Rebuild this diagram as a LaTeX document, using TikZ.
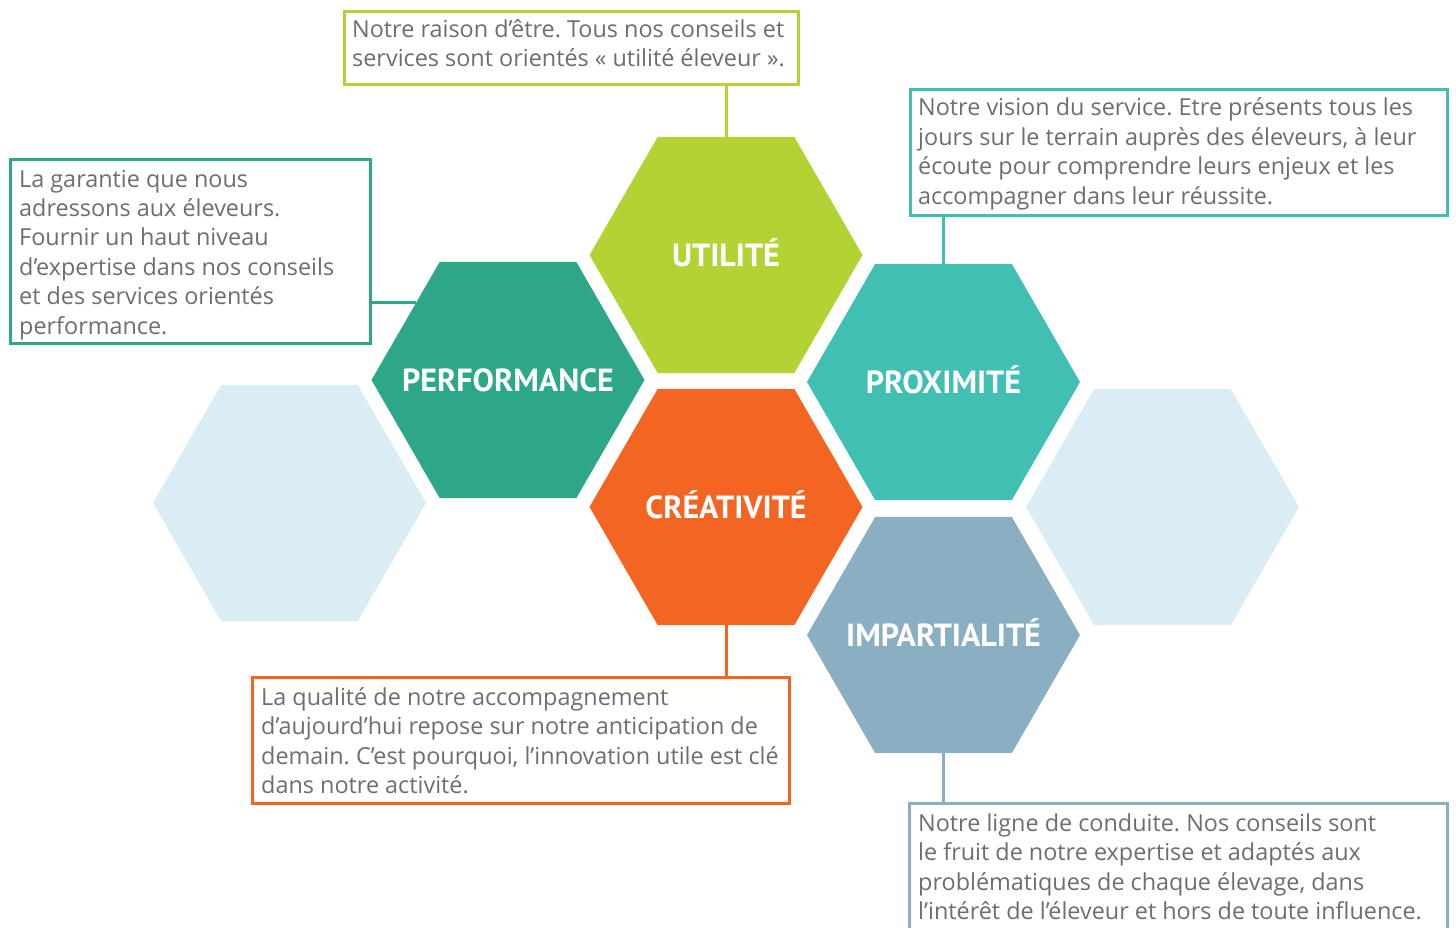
\documentclass[tikz,border=0pt]{standalone}
\usepackage{fontspec}
\setmainfont{Open Sans}
\newfontfamily\labelfont{PT Sans}
\usetikzlibrary{shapes.geometric}
\frenchspacing
\definecolor{cU}{HTML}{B3D334}
\definecolor{cPf}{HTML}{2EA688}
\definecolor{cPx}{HTML}{41BFB2}
\definecolor{cC}{HTML}{F26522}
\definecolor{cI}{HTML}{8AAFC2}
\definecolor{cL}{HTML}{DAECF4}
\definecolor{txt}{HTML}{6D6E71}
\tikzset{
  hexa/.style={regular polygon, regular polygon sides=6, minimum size=273pt,
    inner sep=0pt, outer sep=0pt, draw=none},
  hexlabel/.style={inner sep=0pt, text=white,
    font=\labelfont\fontsize{32}{32}\selectfont\bfseries, text height=22pt, text depth=0pt},
  descbox/.style={draw, line width=3pt, anchor=north west, inner sep=0pt, fill=white},
  desctext/.style={anchor=base west, inner sep=0pt, align=left, text=txt,
    font=\frenchspacing\fontsize{23.4}{29.4}\selectfont},
  link/.style={line width=3pt}
}
\begin{document}
\begin{tikzpicture}[x=1pt,y=-1pt]
\useasboundingbox (0,0) rectangle (1456,927);
\clip (0,0) rectangle (1456,927);
% hexagons
\node[hexa, fill=cL] (l1) at (289.5,503) {};
\node[hexa, fill=cL] (l2) at (1162.5,507) {};
\node[hexa, fill=cU] (u) at (726,255) {};
\node[hexa, fill=cPf] (pf) at (508,380) {};
\node[hexa, fill=cPx] (px) at (943.5,382) {};
\node[hexa, fill=cC] (c) at (726,507) {};
\node[hexa, fill=cI] (i) at (943.5,635) {};
\node[hexlabel] (ul) at (u) {UTILITÉ};
\node[hexlabel] (pfl) at (pf) {PERFORMANCE};
\node[hexlabel] (pxl) at (px) {PROXIMITÉ};
\node[hexlabel] (cl) at (c) {CRÉATIVITÉ};
\node[hexlabel] (il) at (i) {IMPARTIALITÉ};
% boxes
\node[descbox, draw=cU, minimum width=454pt, minimum height=73pt] (tb) at (343,10) {};
\node[descbox, draw=cPf, minimum width=360pt, minimum height=184pt] (pfb) at (9,158) {};
\node[descbox, draw=cPx, minimum width=537pt, minimum height=126pt] (pxb) at (909,88) {};
\node[descbox, draw=cC, minimum width=537pt, minimum height=126pt] (cb) at (251,676) {};
\node[descbox, draw=cI, minimum width=538pt, minimum height=140pt] (ib) at (908,802) {};
% texts (anchored at the baseline of their last line)
\node[desctext] (tt) at (352,66.5) {Notre raison d’être. Tous nos conseils et\\services sont orientés « utilité éleveur ».};
\node[desctext] (pft) at (19,334) {La garantie que nous\\adressons aux éleveurs.\\Fournir un haut niveau\\d’expertise dans nos conseils\\et des services orientés\\performance.};
\node[desctext] (pxt) at (918,204) {Notre vision du service. Etre présents tous les\\jours sur le terrain auprès des éleveurs, à leur\\écoute pour comprendre leurs enjeux et les\\accompagner dans leur réussite.};
\node[desctext] (ct) at (261,793.5) {La qualité de notre accompagnement\\d’aujourd’hui repose sur notre anticipation de\\demain. C’est pourquoi, l’innovation utile est clé\\dans notre activité.};
\node[desctext] (it) at (918,919.5) {Notre ligne de conduite. Nos conseils sont\\le fruit de notre expertise et adaptés aux\\problématiques de chaque élevage, dans\\l’intérêt de l’éleveur et hors de toute influence.};
% connectors
\draw[link, cU] (u.north) -- (u.north |- tb.south);
\draw[link, cPx] (px.north) -- (px.north |- pxb.south);
\draw[link, cC] (c.south) -- (c.south |- cb.north);
\draw[link, cI] (i.south) -- (i.south |- ib.north);
\draw[link, cPf] (pf.140) -- (pf.140 -| pfb.east);
\end{tikzpicture}
\end{document}
